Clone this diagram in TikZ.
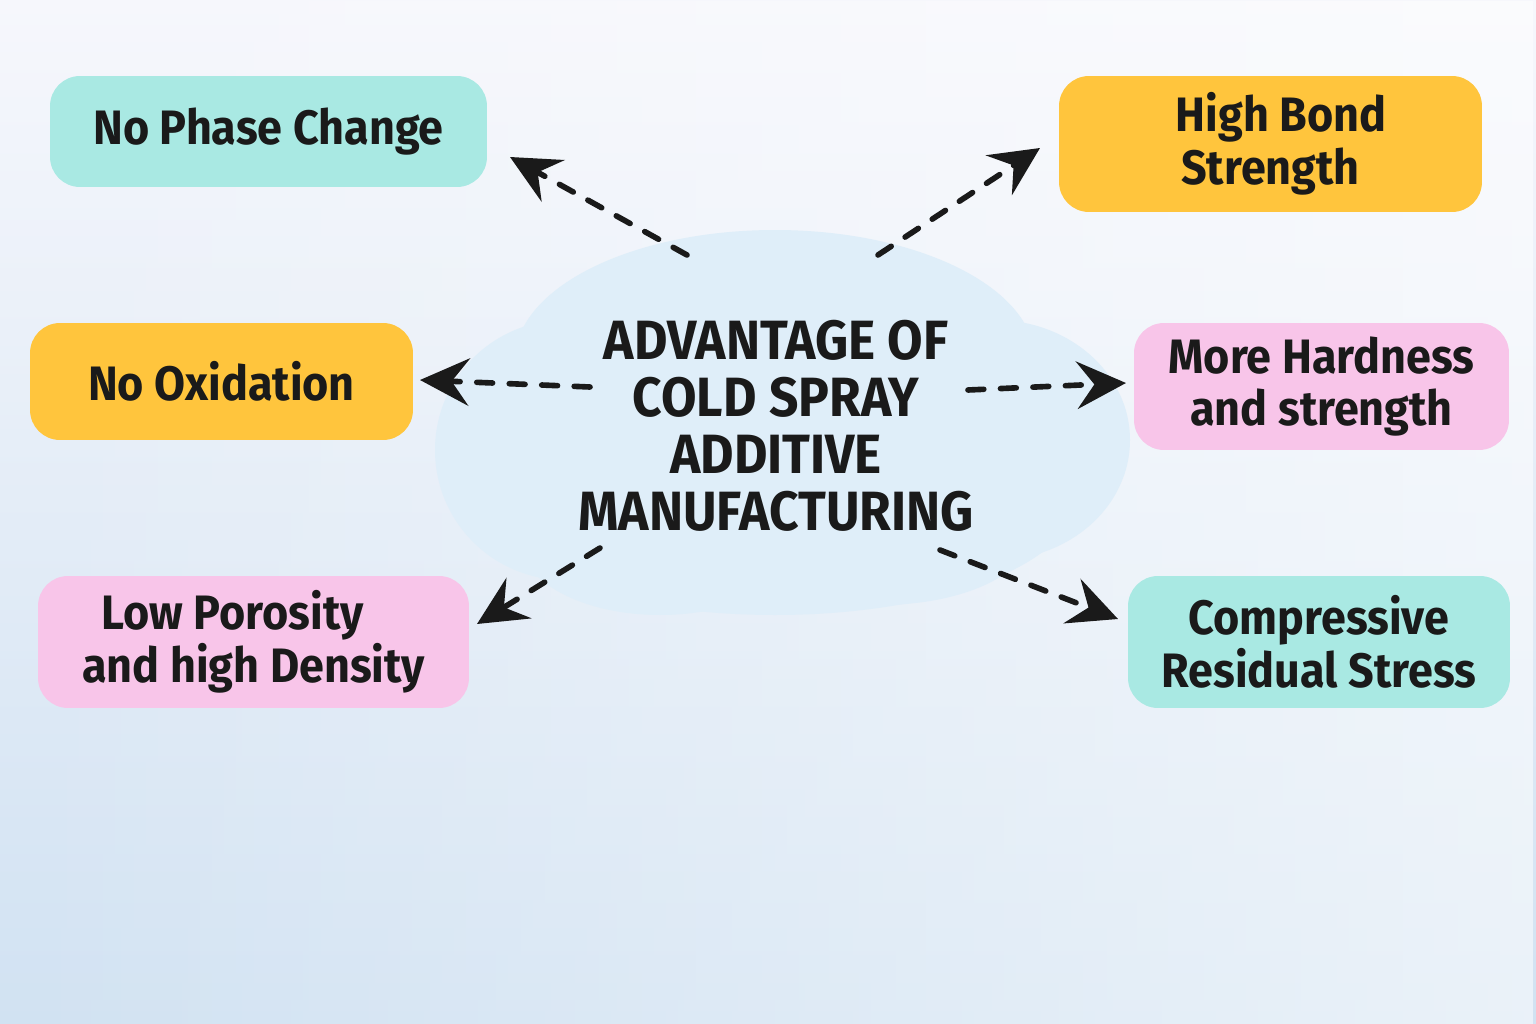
\documentclass[tikz,border=0pt]{standalone}
\usepackage{fontspec}
\setmainfont{Fira Sans}[FakeStretch=0.93]
\usetikzlibrary{arrows.meta,fadings}
\definecolor{bgtop}{HTML}{F6F7FC}
\definecolor{bgmid}{HTML}{EDF2FA}
\definecolor{bgbot}{HTML}{D1E2F2}
\definecolor{tealbox}{HTML}{A9E9E3}
\definecolor{yellowbox}{HTML}{FFC53D}
\definecolor{pinkbox}{HTML}{F8C5E9}
\definecolor{cloudblue}{HTML}{DFEEF9}
\definecolor{ink}{HTML}{1A1A1A}
\tikzfading[name=rightfade, left color=transparent!100, right color=transparent!0]
\tikzset{
  box/.style={rounded corners=0.6cm, inner sep=0pt, align=center, text=ink,
    font=\bfseries\fontsize{27.5}{30}\selectfont},
  conn/.style={draw=ink, line width=3.2pt, line cap=round, dash pattern=on 9pt off 9.5pt,
    -{Stealth[length=28pt, width=27pt, inset=10pt, fill=ink]}},
}
\begin{document}
\begin{tikzpicture}[x=0.02cm, y=-0.02cm]
\useasboundingbox (0,0) rectangle (1536,1024);
% background
\shade[top color=bgtop, middle color=bgmid, bottom color=bgbot] (0,0) rectangle (1536,1024);
\fill[white, opacity=0.55, path fading=rightfade] (0,0) rectangle (1536,1024);
% cloud
\begin{scope}[fill=cloudblue]
  \fill (775,360) ellipse [x radius=260, y radius=130];
  \fill (565,450) circle [radius=130];
  \fill (995,440) ellipse [x radius=135, y radius=120];
  \fill (775,500) ellipse [x radius=300, y radius=115];
  \fill (660,540) ellipse [x radius=140, y radius=75];
  \fill (880,535) ellipse [x radius=150, y radius=70];
\end{scope}
% boxes
\node[box, fill=tealbox, minimum width=8.74cm, minimum height=2.22cm] (b1) at (268.5,131.5) {No Phase Change};
\node[box, fill=yellowbox, minimum width=8.46cm, minimum height=2.72cm] (b2) at (1270.5,144) {\hspace*{12pt}High Bond\\Strength};
\node[box, fill=yellowbox, minimum width=7.66cm, minimum height=2.34cm] (b3) at (221.5,381.5) {No Oxidation};
\node[box, fill=pinkbox, minimum width=7.5cm, minimum height=2.54cm] (b4) at (1321.5,386.5) {More Hardness\\and strength};
\node[box, fill=pinkbox, minimum width=8.62cm, minimum height=2.64cm] (b5) at (253.5,642) {Low Porosity\hspace*{24pt}\\and high Density};
\node[box, fill=tealbox, minimum width=7.64cm, minimum height=2.64cm] (b6) at (1319,642) {Compressive\\Residual Stress};
% title
\node[align=center, text=ink, font=\bfseries\fontsize{31.5}{32.5}\selectfont] (title) at (776,426)
  {ADVANTAGE OF\\COLD SPRAY\\ADDITIVE\\MANUFACTURING};
% connector ends
\coordinate (s1) at (687,255);  \coordinate (t1) at (510,157);
\coordinate (s2) at (878,255);  \coordinate (t2) at (1040,148);
\coordinate (s3) at (590,387);  \coordinate (t3) at (420,380);
\coordinate (s4) at (968,390);  \coordinate (t4) at (1126,383);
\coordinate (s5) at (600,548);  \coordinate (t5) at (477,624);
\coordinate (s6) at (940,550);  \coordinate (t6) at (1118,619);
\draw[conn] (s1) -- (t1);
\draw[conn] (s2) -- (t2);
\draw[conn] (s3) -- (t3);
\draw[conn] (s4) -- (t4);
\draw[conn] (s5) -- (t5);
\draw[conn] (s6) -- (t6);
\end{tikzpicture}
\end{document}
